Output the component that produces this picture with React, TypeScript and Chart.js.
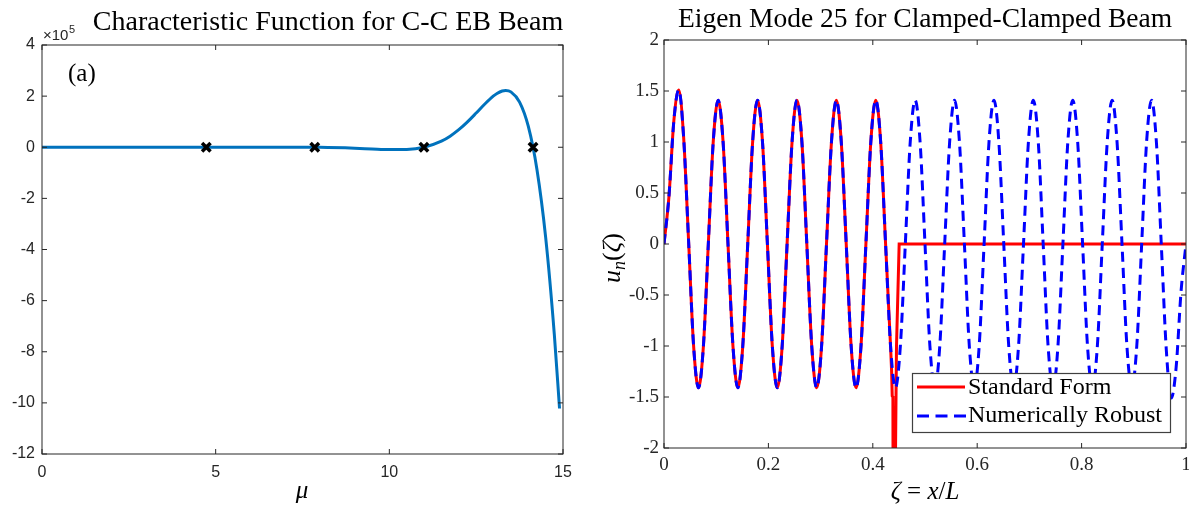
import React, { useEffect, useRef } from 'react';
import { Chart, registerables } from 'chart.js';

Chart.register(...registerables);

// ---------- Left panel: characteristic function ----------
const muGrid = [0, 1, 2, 3, 4, 5, 6, 7, 8, 9, 9.5, 10, 10.5, 11, 11.5, 11.75, 12, 12.25, 12.5, 12.75, 13, 13.1, 13.25, 13.35, 13.5, 13.75, 14, 14.25, 14.5, 14.75, 14.9];
const charValues = [0, -0.17, -2.6, -11, -19, 20, 193, 412, -218, -3692, -6662, -9242, -8635, 132, 24003, 43406, 68674, 99307, 133874, 169380, 200723, 210490, 220235, 222401, 216673, 176700, 82200, -86900, -351800, -732200, -1022000];
const rootMu = [4.73, 7.853, 10.996, 14.137];
const rootValues = [0, 0, 0, 0];
const leftTitle = 'Characteristic Function for C-C EB Beam';

// ---------- Right panel: eigen mode 25 ----------
const zeta = [0, 0.0094, 0.0189, 0.0283, 0.0377, 0.0472, 0.0566, 0.0660, 0.0755, 0.0849, 0.0943, 0.1038, 0.1132, 0.1226, 0.1321, 0.1415, 0.1509, 0.1604, 0.1698, 0.1792, 0.1887, 0.1981, 0.2075, 0.2170, 0.2264, 0.2358, 0.2453, 0.2547, 0.2642, 0.2736, 0.2830, 0.2925, 0.3019, 0.3113, 0.3208, 0.3302, 0.3396, 0.3491, 0.3585, 0.3679, 0.3774, 0.3868, 0.3962, 0.4057, 0.4151, 0.4245, 0.4340, 0.4434, 0.4528, 0.4623, 0.4717, 0.4811, 0.4906, 0.5000, 0.5094, 0.5189, 0.5283, 0.5377, 0.5472, 0.5566, 0.5660, 0.5755, 0.5849, 0.5943, 0.6038, 0.6132, 0.6226, 0.6321, 0.6415, 0.6509, 0.6604, 0.6698, 0.6792, 0.6887, 0.6981, 0.7075, 0.7170, 0.7264, 0.7358, 0.7453, 0.7547, 0.7642, 0.7736, 0.7830, 0.7925, 0.8019, 0.8113, 0.8208, 0.8302, 0.8396, 0.8491, 0.8585, 0.8679, 0.8774, 0.8868, 0.8962, 0.9057, 0.9151, 0.9245, 0.9340, 0.9434, 0.9528, 0.9623, 0.9717, 0.9811, 0.9906, 1.0];
const robustValues = [
  0, 0.46, 1.21, 1.51, 1.04, 0.02, -0.99, -1.41, -1.0,
  0, 1.0, 1.41, 1.0, 0, -1.0, -1.41, -1.0,
  0, 1.0, 1.41, 1.0, 0, -1.0, -1.41, -1.0,
  0, 1.0, 1.41, 1.0, 0, -1.0, -1.41, -1.0,
  0, 1.0, 1.41, 1.0, 0, -1.0, -1.41, -1.0,
  0, 1.0, 1.41, 1.0, 0, -1.0, -1.41, -1.0,
  0, 1.0, 1.41, 1.0, 0, -1.0, -1.41, -1.0,
  0, 1.0, 1.41, 1.0, 0, -1.0, -1.41, -1.0,
  0, 1.0, 1.41, 1.0, 0, -1.0, -1.41, -1.0,
  0, 1.0, 1.41, 1.0, 0, -1.0, -1.41, -1.0,
  0, 1.0, 1.41, 1.0, 0, -1.0, -1.41, -1.0,
  0, 1.0, 1.41, 1.0, 0, -1.0, -1.41, -1.0,
  0, 1.0, 1.41, 0.99, -0.02, -1.04, -1.51, -1.21, -0.46, 0,
];
const standardSamples = 47; // the standard form follows the robust one up to zeta ≈ 0.434
const standardTailZeta = [0.434, 0.436, 0.4372, 0.4385, 0.439, 0.4425, 0.4454, 0.4505, 1.0];
const standardTailValues = [-1.0, -1.24, -1.49, -1.5, -2.6, -2.6, -1.0, 0, 0];
const rightTitle = 'Eigen Mode 25 for Clamped-Clamped Beam';
const legendLabels = ['Standard Form', 'Numerically Robust'];

const zip = (xs: number[], ys: number[]) => xs.map((x, i) => ({ x, y: ys[i] }));

const SERIF = '"Liberation Serif", "Times New Roman", serif';
const SANS = '"Liberation Sans", Arial, sans-serif';
const AXC = '#262626';

const boxPlugin = {
  id: 'matlabBox',
  afterDatasetsDraw(chart: any) {
    const { ctx, chartArea: a, scales } = chart;
    ctx.save();
    ctx.strokeStyle = AXC;
    ctx.lineWidth = 1;
    ctx.strokeRect(a.left, a.top, a.right - a.left, a.bottom - a.top);
    const tl = 5;
    ctx.beginPath();
    scales.x.ticks.forEach((t: any) => {
      const p = scales.x.getPixelForValue(t.value);
      ctx.moveTo(p, a.bottom); ctx.lineTo(p, a.bottom - tl);
      ctx.moveTo(p, a.top); ctx.lineTo(p, a.top + tl);
    });
    scales.y.ticks.forEach((t: any) => {
      const p = scales.y.getPixelForValue(t.value);
      ctx.moveTo(a.left, p); ctx.lineTo(a.left + tl, p);
      ctx.moveTo(a.right, p); ctx.lineTo(a.right - tl, p);
    });
    ctx.stroke();
    ctx.restore();
  },
};

type Part = { t: string; italic?: boolean; size?: number; dy?: number };
function drawParts(ctx: CanvasRenderingContext2D, parts: Part[], x: number, y: number, base: number) {
  const fontOf = (p: Part) => `${p.italic ? 'italic ' : ''}${p.size || base}px ${SERIF}`;
  let total = 0;
  parts.forEach((p) => { ctx.font = fontOf(p); total += ctx.measureText(p.t).width; });
  let cx = x - total / 2;
  ctx.textAlign = 'left';
  ctx.textBaseline = 'alphabetic';
  parts.forEach((p) => {
    ctx.font = fontOf(p);
    ctx.fillText(p.t, cx, y + (p.dy || 0));
    cx += ctx.measureText(p.t).width;
  });
}

const leftTextPlugin = {
  id: 'leftText',
  afterDraw(chart: any) {
    const ctx = chart.ctx as CanvasRenderingContext2D;
    ctx.save();
    ctx.fillStyle = '#000';
    ctx.font = `28px ${SERIF}`;
    ctx.textAlign = 'center';
    ctx.textBaseline = 'alphabetic';
    ctx.fillText(leftTitle, 328, 30);
    ctx.font = `25px ${SERIF}`;
    ctx.textAlign = 'left';
    ctx.fillText('(a)', 68, 81);
    drawParts(ctx, [{ t: 'μ', italic: true }], 302, 498, 25);
    ctx.fillStyle = AXC;
    ctx.font = `15px ${SANS}`;
    ctx.textAlign = 'left';
    ctx.fillText('×10', 43, 40);
    const w = ctx.measureText('×10').width;
    ctx.font = `11px ${SANS}`;
    ctx.fillText('5', 43 + w + 0.5, 33);
    ctx.restore();
  },
};

const rightTextPlugin = {
  id: 'rightText',
  afterDraw(chart: any) {
    const ctx = chart.ctx as CanvasRenderingContext2D;
    ctx.save();
    ctx.fillStyle = '#000';
    ctx.font = `27.5px ${SERIF}`;
    ctx.textAlign = 'center';
    ctx.textBaseline = 'alphabetic';
    ctx.fillText(rightTitle, 325, 27);
    drawParts(ctx, [
      { t: 'ζ', italic: true }, { t: ' = ' }, { t: 'x', italic: true }, { t: '/' }, { t: 'L', italic: true },
    ], 325, 499, 25);
    ctx.translate(20, 258);
    ctx.rotate(-Math.PI / 2);
    drawParts(ctx, [
      { t: 'u', italic: true }, { t: 'n', italic: true, size: 18, dy: 5 }, { t: '(' }, { t: 'ζ', italic: true }, { t: ')' },
    ], 0, 0, 26);
    ctx.restore();

    // legend
    ctx.save();
    const bx = 312, by = 373, bw = 258, bh = 59;
    ctx.fillStyle = '#fff';
    ctx.fillRect(bx, by, bw, bh);
    ctx.strokeStyle = '#404040';
    ctx.lineWidth = 1.2;
    ctx.strokeRect(bx + 0.5, by + 0.5, bw, bh);
    ctx.lineWidth = 3;
    ctx.strokeStyle = '#ff0000';
    ctx.beginPath(); ctx.moveTo(317, 387); ctx.lineTo(365, 387); ctx.stroke();
    ctx.strokeStyle = '#0000ff';
    ctx.setLineDash([12, 6.5]);
    ctx.beginPath(); ctx.moveTo(317, 416); ctx.lineTo(366, 416); ctx.stroke();
    ctx.setLineDash([]);
    ctx.fillStyle = '#000';
    ctx.font = `24px ${SERIF}`;
    ctx.textAlign = 'left';
    ctx.textBaseline = 'alphabetic';
    ctx.fillText(legendLabels[0], 368, 394);
    ctx.fillText(legendLabels[1], 368, 422);
    ctx.restore();
  },
};

function LeftChart() {
  const ref = useRef<HTMLCanvasElement>(null);
  useEffect(() => {
    const chart = new Chart(ref.current!, {
      type: 'line',
      data: {
        datasets: [
          {
            label: 'roots',
            data: zip(rootMu, rootValues),
            showLine: false,
            pointStyle: 'crossRot',
            pointRadius: 6,
            pointBorderWidth: 3.5,
            borderColor: '#000',
            backgroundColor: '#000',
            order: 0,
          },
          {
            label: 'f(mu)',
            data: zip(muGrid, charValues),
            borderColor: '#0072BD',
            borderWidth: 3,
            pointRadius: 0,
            cubicInterpolationMode: 'monotone',
            order: 1,
            clip: 0,
          },
        ],
      },
      options: {
        animation: false,
        responsive: false,
        devicePixelRatio: 1,
        layout: { padding: { left: 0, right: 37, top: 45, bottom: 12 } },
        plugins: { legend: { display: false }, tooltip: { enabled: false }, title: { display: false } },
        scales: {
          x: {
            type: 'linear', min: 0, max: 15,
            ticks: { stepSize: 5, padding: 9, color: AXC, font: { family: SANS, size: 16 }, callback: (v: any) => String(v), maxRotation: 0 },
            grid: { display: false, drawTicks: false },
            border: { display: false },
            afterFit: (s: any) => { s.height = 40; },
          },
          y: {
            type: 'linear', min: -1200000, max: 400000,
            ticks: { stepSize: 200000, padding: 7, color: AXC, font: { family: SANS, size: 16 }, callback: (v: any) => String(Math.round(Number(v) / 100000)) },
            grid: { display: false, drawTicks: false },
            border: { display: false },
            afterFit: (s: any) => { s.width = 42; },
          },
        },
      },
      plugins: [boxPlugin, leftTextPlugin],
    } as any);
    return () => chart.destroy();
  }, []);
  return <canvas ref={ref} width={600} height={506} style={{ position: 'absolute', left: 0, top: 0 }} />;
}

function RightChart() {
  const ref = useRef<HTMLCanvasElement>(null);
  useEffect(() => {
    const stdZeta = zeta.slice(0, standardSamples);
    const stdVals = robustValues.slice(0, standardSamples);
    const chart = new Chart(ref.current!, {
      type: 'line',
      data: {
        datasets: [
          {
            label: legendLabels[0],
            data: zip(stdZeta, stdVals),
            borderColor: '#ff0000', borderWidth: 3, pointRadius: 0,
            cubicInterpolationMode: 'monotone', order: 3, clip: 0,
          },
          {
            label: legendLabels[0] + ' (tail)',
            data: zip(standardTailZeta, standardTailValues),
            borderColor: '#ff0000', borderWidth: 3, pointRadius: 0,
            tension: 0, order: 2, clip: 0,
          },
          {
            label: legendLabels[1],
            data: zip(zeta, robustValues),
            borderColor: '#0000ff', borderWidth: 3, pointRadius: 0,
            borderDash: [10, 6],
            cubicInterpolationMode: 'monotone', order: 1, clip: 0,
          },
        ],
      },
      options: {
        animation: false,
        responsive: false,
        devicePixelRatio: 1,
        layout: { padding: { left: 0, right: 14, top: 40, bottom: 18 } },
        plugins: { legend: { display: false }, tooltip: { enabled: false }, title: { display: false } },
        scales: {
          x: {
            type: 'linear', min: 0, max: 1,
            ticks: { stepSize: 0.2, padding: 6, color: AXC, font: { family: SERIF, size: 19 }, callback: (v: any) => String(Math.round(Number(v) * 100) / 100), maxRotation: 0 },
            grid: { display: false, drawTicks: false },
            border: { display: false },
            afterFit: (s: any) => { s.height = 40; },
          },
          y: {
            type: 'linear', min: -2, max: 2,
            ticks: { stepSize: 0.5, padding: 5, color: AXC, font: { family: SERIF, size: 19 }, callback: (v: any) => String(Math.round(Number(v) * 100) / 100) },
            grid: { display: false, drawTicks: false },
            border: { display: false },
            afterFit: (s: any) => { s.width = 64; },
          },
        },
      },
      plugins: [boxPlugin, rightTextPlugin],
    } as any);
    return () => chart.destroy();
  }, []);
  return <canvas ref={ref} width={600} height={506} style={{ position: 'absolute', left: 600, top: 0 }} />;
}

export default function App() {
  return (
    <div style={{ position: 'fixed', left: 0, top: 0, width: 1189, height: 506, overflow: 'hidden', background: '#fff' }}>
      <LeftChart />
      <RightChart />
    </div>
  );
}
